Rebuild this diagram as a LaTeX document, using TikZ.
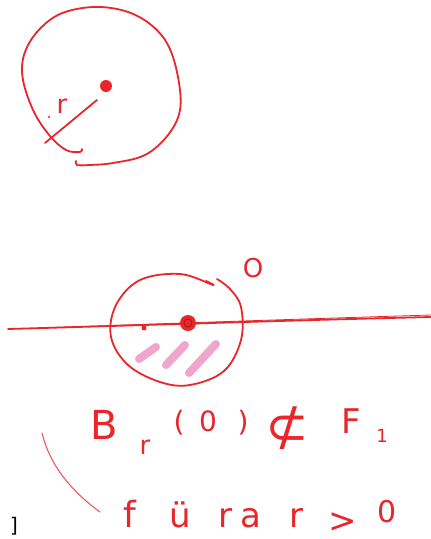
\documentclass[tikz,border=0pt]{standalone}
\usepackage{fontspec}
\setmainfont{DejaVu Sans}
\begin{document}
\begin{tikzpicture}[x=1pt,y=-1pt,
  pen/.style={draw=penred, line width=1.8pt, line cap=round, line join=round},
  thinpen/.style={draw=penred!75, line width=1.1pt, line cap=round},
  hatch/.style={draw=hatchpink, line width=8pt, line cap=round},
  hand/.style={text=penred, inner sep=0pt, font=\fontsize{#1}{#1}\selectfont},
  hand/.default=30]
\definecolor{penred}{HTML}{E8262B}
\definecolor{hatchpink}{HTML}{F0A6CC}
\useasboundingbox (0,0) rectangle (431,539);
\fill[white] (0,0) rectangle (431,539);

% ---------- top disc ----------
\draw[pen] plot[smooth, tension=0.6] coordinates {
  (82,149) (80,152) (66,150) (50,136) (34,112) (23,80) (24,55) (37,32)
  (60,14) (93,7) (125,11) (150,24) (168,45) (178,77) (180,110) (168,135)
  (145,155) (113,163) (90,165) (77,165) (76,161)};
\fill[penred] (106,86) circle (6pt);
\coordinate (c1) at (97,100);
\coordinate (r1) at (45,143);
\draw[pen] (c1) -- (r1);
\fill[penred] (49,117) circle (1.2pt);
\node[hand=26] (rlab) at (62,106) {r};

% ---------- second picture ----------
\coordinate (lineL) at (8,329);
\coordinate (lineR) at (431,317);
\draw[pen] (lineL) .. controls (150,325) and (300,320) .. (lineR);
\draw[penred, line width=0.8pt] (40,328) .. controls (150,324) and (300,319) .. (431,315);
\fill[penred] (144,328) circle (2.5pt);

\draw[pen] plot[smooth, tension=0.6] coordinates {
  (206,281) (213,285) (180,274) (140,280) (116,305) (111,337) (128,365)
  (160,382) (190,385) (224,371) (241,340) (241,307) (230,289) (217,279)};

\fill[penred] (188,323) circle (8pt);
\draw[penred!70!black, line width=0.8pt] (188,323) circle (4pt);

\draw[hatch] (139,359) -- (156,347);
\draw[hatch] (166,365) -- (185,345);
\draw[hatch] (189,373) -- (216,344);

\node[hand=26] (origin) at (253,268) {O};

% ---------- text ----------
\node[hand=40] (B) at (104,425) {B};
\node[hand=26] (rsub) at (145,447) {r};
\node[hand=28] (lp) at (179,423) {(};
\node[hand=28] (z0) at (208,421) {0};
\node[hand=28] (rp) at (243,423) {)};
\node[hand=52] (nsub) at (287,428) {⊄};
\node[hand=34] (F) at (351,421) {F};
\node[hand=18] (one) at (382,436) {1};

\coordinate (arcA) at (42,433);
\coordinate (arcB) at (100,512);
\draw[thinpen] (arcA) .. controls (50,465) and (70,490) .. (arcB);

\node[hand=36, anchor=base] (f) at (130,527) {f};
\node[hand=34, anchor=base] (ue) at (180,527) {ü};
\node[hand=34, anchor=base] (r2) at (225,527) {r};
\node[hand=34, anchor=base] (a) at (251,527) {a};
\node[hand=34, anchor=base] (rr) at (296,527) {r};
\node[hand=34, anchor=base] (gt) at (343,532) {>};
\node[hand=30, anchor=base] (zero) at (387,522) {0};

\node[text=black, inner sep=0pt, font=\fontsize{20}{20}\selectfont] (br) at (14,526) {]};
\end{tikzpicture}
\end{document}
